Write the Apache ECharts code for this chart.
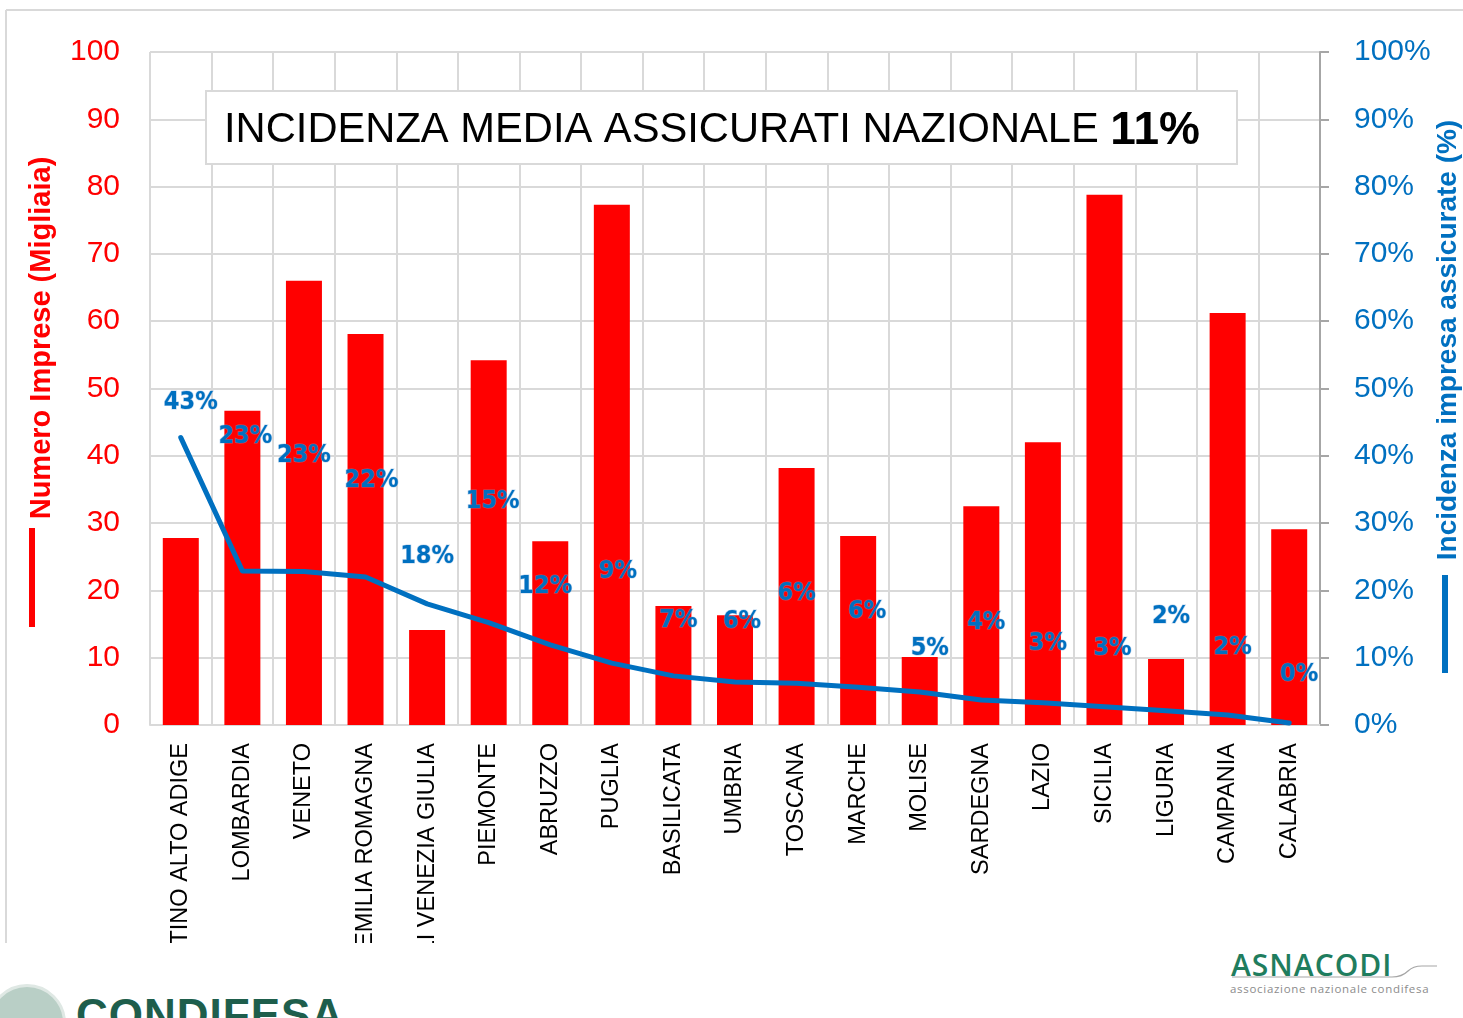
<!DOCTYPE html>
<html>
<head>
<meta charset="utf-8">
<script src="https://cdn.jsdelivr.net/npm/echarts@6/dist/echarts.min.js"></script>
<style>
    html, body { margin: 0; padding: 0; background: #fff; }
    #page { position: relative; width: 1463px; height: 1018px; overflow: hidden; }
    #chart { position: absolute; left: 0; top: 0; width: 1463px; height: 943px; }
    .asn { position: absolute; left: 1231px; top: 944px; font-family: 'Open Sans', sans-serif; font-weight: 600; font-size: 30px; color: #1f7d5e; letter-spacing: 1px; }
    .asn-sub { position: absolute; left: 1230px; top: 981px; font-family: 'Open Sans', sans-serif; font-size: 11.5px; color: #8c8c8c; letter-spacing: 0.7px; }
    .asn-line { position: absolute; left: 1232px; top: 964px; width: 205px; height: 16px; }
    .cond { position: absolute; left: 76px; top: 990px; font-family: 'Liberation Sans', Arial, sans-serif; font-weight: bold; font-size: 44px; color: #1e5e4c; letter-spacing: 1px; }
    .cond-logo { position: absolute; left: -12px; top: 984px; width: 72px; height: 72px; border-radius: 50%; background: #b9cfc6; border: 3px solid #dfe8e4; }
</style>
</head>
<body>
<div id="page">
    <div id="chart"></div>
    <div class="asn">ASNACODI</div>
    <svg class="asn-line" viewBox="0 0 205 16"><path d="M0 13 L160 13 Q170 13 176 7 Q181 2 190 2 L205 2" fill="none" stroke="#a6a6a6" stroke-width="1.2"/></svg>
    <div class="asn-sub">associazione nazionale condifesa</div>
    <div class="cond-logo"></div>
    <div class="cond">CONDIFESA</div>
</div>
<script>
    // regioni
    const regioni = ['TRENTINO ALTO ADIGE', 'LOMBARDIA', 'VENETO', 'EMILIA ROMAGNA', 'FRIULI VENEZIA GIULIA',
        'PIEMONTE', 'ABRUZZO', 'PUGLIA', 'BASILICATA', 'UMBRIA', 'TOSCANA', 'MARCHE', 'MOLISE',
        'SARDEGNA', 'LAZIO', 'SICILIA', 'LIGURIA', 'CAMPANIA', 'CALABRIA'];
    // numero imprese (migliaia)
    const imprese = [27.8, 46.7, 66.0, 58.1, 14.1, 54.2, 27.3, 77.3, 17.7, 16.3, 38.2, 28.1, 10.1,
        32.5, 42.0, 78.8, 9.8, 61.2, 29.1];
    // incidenza impresa assicurate (%)
    const incidenza = [42.7, 22.9, 22.8, 22.0, 18.0, 15.2, 11.9, 9.2, 7.3, 6.4, 6.2, 5.6, 4.9,
        3.7, 3.3, 2.7, 2.1, 1.5, 0.3];
    const ticksSx = [0, 100, 10];
    const ticksDx = [0, 100, 10];
    const mediaNazionale = '11%';

    // spostamento etichette (come nel grafico excel)
    const labelNudge = [[10, -35], [3, -134], [0, -116], [6, -96], [0, -47], [4, -121], [-5, -58], [6, -92],
        [5, -55], [7, -60], [0, -90], [9, -76], [10, -44], [5, -78], [5, -59], [8, -58], [5, -94], [5, -67], [10, -48]];

    const blu = '#0070C0';
    const rosso = '#FF0000';
    const grigio = '#d9d9d9';

    const chart = echarts.init(document.getElementById('chart'));
    const option = {
        animation: false,
        grid: { left: 150, right: 143, top: 52, bottom: 218, containLabel: false, outerBoundsMode: 'none' },
        xAxis: {
            type: 'category',
            data: regioni,
            axisTick: { show: false },
            axisLine: { lineStyle: { color: grigio, width: 2 } },
            splitLine: { show: true, lineStyle: { color: grigio, width: 2 } },
            axisLabel: {
                rotate: 90,
                interval: 0,
                margin: 18,
                color: '#000',
                fontSize: 23.5,
                fontFamily: 'Liberation Sans, Arial, sans-serif'
            }
        },
        yAxis: [{
            type: 'value',
            min: ticksSx[0], max: ticksSx[1], interval: ticksSx[2],
            axisLine: { show: false },
            axisTick: { show: false },
            splitLine: { lineStyle: { color: grigio, width: 2 } },
            axisLabel: {
                margin: 30,
                color: rosso,
                fontSize: 30,
                fontFamily: 'Liberation Sans, Arial, sans-serif'
            }
        }, {
            type: 'value',
            min: ticksDx[0], max: ticksDx[1], interval: ticksDx[2],
            position: 'right',
            axisLine: { show: true, lineStyle: { color: '#a6a6a6', width: 2 } },
            axisTick: { show: true, length: 9, lineStyle: { color: '#a6a6a6', width: 2 } },
            splitLine: { show: false },
            axisLabel: {
                margin: 34,
                color: blu,
                fontSize: 30,
                fontFamily: 'Liberation Sans, Arial, sans-serif',
                formatter: '{value}%'
            }
        }],
        series: [{
            name: 'Numero Imprese (Migliaia)',
            type: 'bar',
            data: imprese,
            barWidth: 36,
            itemStyle: { color: rosso },
            z: 2
        }, {
            name: 'Incidenza impresa assicurate (%)',
            type: 'line',
            yAxisIndex: 1,
            data: incidenza.map((v, i) => ({ value: v, label: { offset: labelNudge[i] } })),
            symbol: 'circle',
            symbolSize: 1,
            itemStyle: { color: blu },
            lineStyle: { color: blu, width: 5, join: 'round', cap: 'round' },
            z: 3,
            label: {
                show: true,
                position: 'inside',
                color: blu,
                fontSize: 25,
                fontWeight: 'bold',
                fontFamily: 'DejaVu Sans Condensed, Arial, sans-serif',
                textBorderColor: 'rgba(120,170,220,0.5)',
                textBorderWidth: 1.2,
                formatter: p => Math.round(p.value) + '%'
            }
        }],
        graphic: [
            { type: 'line', z: 0, shape: { x1: 6, y1: 10, x2: 1463, y2: 10 }, style: { stroke: grigio, lineWidth: 2 } },
            { type: 'line', z: 0, shape: { x1: 6, y1: 10, x2: 6, y2: 943 }, style: { stroke: grigio, lineWidth: 2 } },
            {
                type: 'rect', z: 10,
                shape: { x: 206, y: 91, width: 1031, height: 73 },
                style: { fill: '#fff', stroke: grigio, lineWidth: 2 }
            },
            {
                type: 'text', z: 11, x: 224, y: 131,
                style: {
                    text: '{a|INCIDENZA MEDIA ASSICURATI NAZIONALE }{b|' + mediaNazionale + '}',
                    verticalAlign: 'middle',
                    rich: {
                        a: { fontSize: 41.7, fontFamily: 'Liberation Sans, Arial, sans-serif', fill: '#000', color: '#000' },
                        b: { fontSize: 46, fontWeight: 'bold', fontFamily: 'Liberation Sans, Arial, sans-serif', fill: '#000', color: '#000' }
                    }
                }
            },
            {
                type: 'text', z: 11, x: 42, y: 338, rotation: Math.PI / 2,
                style: {
                    text: 'Numero Imprese (Migliaia)',
                    align: 'center', verticalAlign: 'middle',
                    fill: rosso,
                    font: 'bold 29px "Liberation Sans", Arial, sans-serif'
                }
            },
            { type: 'line', z: 11, shape: { x1: 32, y1: 528, x2: 32, y2: 627 }, style: { stroke: rosso, lineWidth: 6 } },
            {
                type: 'text', z: 11, x: 1448, y: 340, rotation: Math.PI / 2,
                style: {
                    text: 'Incidenza impresa assicurate (%)',
                    align: 'center', verticalAlign: 'middle',
                    fill: blu,
                    font: 'bold 28px "Liberation Sans", Arial, sans-serif'
                }
            },
            { type: 'line', z: 11, shape: { x1: 1445, y1: 575, x2: 1445, y2: 673 }, style: { stroke: blu, lineWidth: 6 } }
        ]
    };
    chart.setOption(option);
</script>
</body>
</html>
